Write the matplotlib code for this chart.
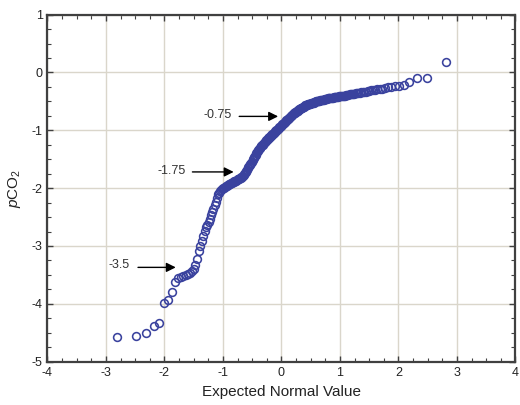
import matplotlib
matplotlib.use("Agg")
import matplotlib.pyplot as plt
from matplotlib.ticker import MultipleLocator
from statistics import NormalDist

plt.rcParams["font.family"] = ["Liberation Sans", "DejaVu Sans"]
plt.rcParams["mathtext.fontset"] = "custom"
plt.rcParams["mathtext.rm"] = "Liberation Sans"
plt.rcParams["mathtext.it"] = "Liberation Sans:italic"
plt.rcParams["axes.unicode_minus"] = False

pco2 = [
    -4.57, -4.55, -4.50, -4.38, -4.34, -3.98, -3.93, -3.80, -3.62, -3.55,
    -3.53, -3.52, -3.51, -3.49, -3.47, -3.44, -3.40, -3.33, -3.22, -3.08,
    -3.00, -2.92, -2.82, -2.74, -2.67, -2.63, -2.59, -2.53, -2.47, -2.42,
    -2.36, -2.30, -2.24, -2.17, -2.11, -2.08, -2.05, -2.03, -2.01, -2.00,
    -1.99, -1.98, -1.97, -1.96, -1.95, -1.94, -1.93, -1.93, -1.92, -1.91,
    -1.90, -1.89, -1.88,
    -1.87, -1.87, -1.86, -1.85, -1.84, -1.84, -1.83, -1.82, -1.81, -1.80,
    -1.79, -1.78, -1.76, -1.74, -1.72, -1.70,
    -1.68, -1.66, -1.64, -1.62, -1.60, -1.58, -1.56, -1.54, -1.52, -1.50,
    -1.48, -1.46, -1.44, -1.42, -1.40, -1.38, -1.36, -1.34,
    -1.32, -1.31, -1.30, -1.28, -1.27, -1.26, -1.25, -1.23, -1.22, -1.21,
    -1.20, -1.18, -1.17, -1.16, -1.15, -1.14, -1.13, -1.12, -1.11,
    -1.10, -1.09, -1.08, -1.07, -1.06, -1.05, -1.04, -1.03, -1.02, -1.01,
    -1.00, -0.99, -0.98, -0.97, -0.96, -0.95, -0.94, -0.93, -0.92,
    -0.91, -0.90, -0.89, -0.88, -0.87, -0.86, -0.85, -0.84, -0.83, -0.82,
    -0.81, -0.80, -0.79, -0.78, -0.77, -0.76, -0.75, -0.74, -0.73, -0.72,
    -0.71, -0.70, -0.70, -0.69, -0.68, -0.67, -0.67, -0.66, -0.65, -0.64,
    -0.64, -0.63, -0.62, -0.62, -0.61, -0.60, -0.60, -0.59, -0.58,
    -0.57, -0.57, -0.56, -0.56, -0.55, -0.55, -0.55, -0.54, -0.54, -0.53,
    -0.53, -0.52, -0.52, -0.52, -0.51, -0.51, -0.50, -0.50,
    -0.50, -0.49, -0.49, -0.49, -0.48, -0.48, -0.48, -0.47, -0.47, -0.47,
    -0.46, -0.46, -0.46, -0.46, -0.45, -0.45,
    -0.45, -0.45, -0.44, -0.44, -0.44, -0.43, -0.43, -0.43, -0.42, -0.42,
    -0.42, -0.41, -0.41,
    -0.41, -0.40, -0.40, -0.40, -0.40, -0.39, -0.39, -0.39, -0.38, -0.38,
    -0.38,
    -0.37, -0.37, -0.36, -0.36, -0.35, -0.35, -0.34, -0.34,
    -0.33, -0.33, -0.32, -0.32, -0.31, -0.31, -0.30,
    -0.29, -0.28, -0.28, -0.27, -0.26,
    -0.25, -0.24, -0.23,
    -0.21, -0.17, -0.10, -0.10, 0.18,
]

# arrow annotations: label, text position, arrow tail x, arrow head x, y
note_labels = ["-0.75", "-1.75", "-3.5"]
note_text_xy = [(-1.09, -0.73), (-1.88, -1.71), (-2.78, -3.33)]
note_arrow_x = [(-0.77, -0.01), (-1.57, -0.77), (-2.50, -1.76)]
note_arrow_y = [-0.76, -1.72, -3.37]

# expected normal values (Blom plotting positions)
n = len(pco2)
nd = NormalDist()
expected = [nd.inv_cdf((i + 1 - 0.375) / (n + 0.25)) for i in range(n)]

fig = plt.figure(figsize=(5.2, 4.05), dpi=100)
ax = fig.add_axes([0.0913, 0.107, 0.9, 0.857])

ax.plot(expected, pco2, "o", mfc="none", mec="#3a429e", ms=5.6, mew=1.15,
        zorder=3)

ax.set_xlim(-4, 4)
ax.set_ylim(-5, 1)
ax.xaxis.set_major_locator(MultipleLocator(1))
ax.yaxis.set_major_locator(MultipleLocator(1))
ax.xaxis.set_minor_locator(MultipleLocator(0.25))
ax.yaxis.set_minor_locator(MultipleLocator(0.25))
ax.grid(True, which="major", color="#dad6cb", lw=1.0, zorder=0)
ax.tick_params(which="both", direction="in", top=True, right=True,
               color="#404040", labelsize=9, labelcolor="#222222")
ax.tick_params(which="major", length=4, width=1)
ax.tick_params(which="minor", length=3, width=0.8)
for sp in ax.spines.values():
    sp.set_color("#404040")
    sp.set_linewidth(1.6)

ax.set_xlabel("Expected Normal Value", fontsize=11, color="#222222",
              labelpad=5)
ax.set_ylabel("$p$CO$_2$", fontsize=11, color="#222222", labelpad=6)

for lab, (tx, ty), (x0, x1), y in zip(note_labels, note_text_xy,
                                      note_arrow_x, note_arrow_y):
    ax.text(tx, ty, lab, ha="center", va="center", fontsize=9,
            color="#333333")
    ax.annotate("", xy=(x1, y), xytext=(x0, y),
                arrowprops=dict(arrowstyle="-|>", color="black", lw=1,
                                mutation_scale=14))

fig.savefig("out.png", dpi=100)
